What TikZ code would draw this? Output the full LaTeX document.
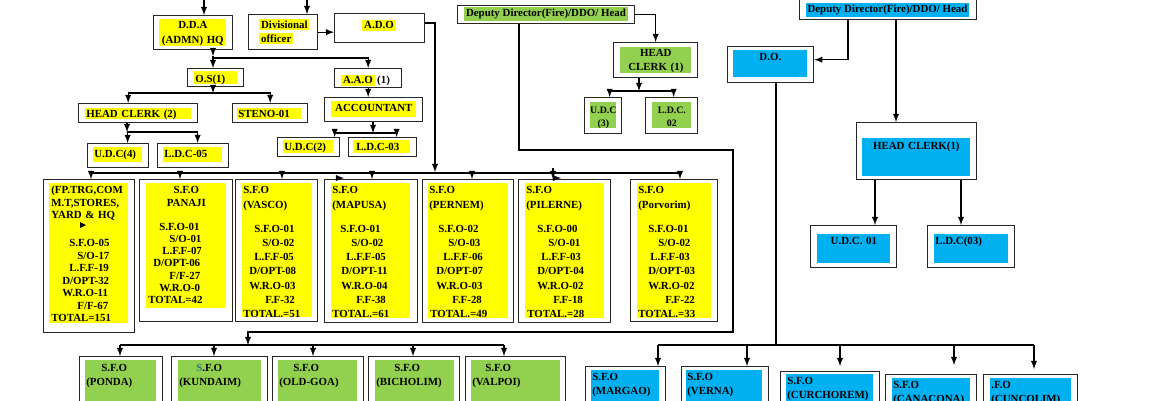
\documentclass[tikz,border=0pt]{standalone}
\usepackage{fontspec}
\setmainfont{Liberation Serif}
\usetikzlibrary{calc}

\definecolor{hlyel}{RGB}{255,255,0}
\definecolor{hlgrn}{RGB}{146,208,80}
\definecolor{hlblu}{RGB}{0,176,240}
\definecolor{kteal}{RGB}{40,120,150}

\newlength\pxl \setlength\pxl{0.02cm}
\newcommand{\ind}[1]{\hspace*{#1\pxl}}
\newcommand{\ctr}[1]{\makebox[\linewidth]{#1}}
\newcommand{\hl}[2]{{\setlength{\fboxsep}{1pt}\colorbox{#1}{#2}}}

\tikzset{
  frame/.style 2 args={draw=black!85, line width=0.75pt, anchor=north west, inner sep=0pt,
    minimum width=#1*0.02cm, minimum height=#2*0.02cm},
  pad/.style n args={4}{fill=#1, anchor=north west, inner xsep=0.02cm, inner ysep=0pt,
    text width=(#2-2)*0.02cm, text height=#3*0.02cm, text depth=#4*0.02cm},
  lines/.style={font=\fontsize{6.2}{#1}\selectfont\bfseries},
  small/.style={font=\fontsize{5.6}{#1}\selectfont\bfseries},
  conn/.style={line width=0.6pt, -latex},
  wire/.style={line width=0.6pt},
}

\begin{document}
\begin{tikzpicture}[x=0.02cm, y=-0.02cm, every node/.style={font=\fontsize{6.2}{7.4}\selectfont\bfseries}]
\useasboundingbox (0,0) rectangle (1170,400);
\clip (0,0) rectangle (1170,400);
\fill[white] (0,0) rectangle (1170,400);

% admin side
\node[frame={79}{34}] (dda) at (153,15) {};
\node[pad={hlyel}{67}{9.6}{17.4}, align=center, lines=8.5pt] (ddaT) at (159,19) {D.D.A\\(ADMN) HQ};
\node[frame={69}{35}] (div) at (248,14) {};
\node[anchor=base west, inner sep=0pt, text width=50*0.02cm, align=left, lines=7.9pt] (divT) at (259,28.6)
  {\hl{hlyel}{Divisional}\\\hl{hlyel}{officer}};
\node[frame={90}{29}] (ado) at (334,13) {};
\node[anchor=base, inner sep=0pt] (adoT) at (379,28.6) {\hl{hlyel}{A.D.O}};

\node[frame={56}{18}] (os) at (187,68) {};
\node[pad={hlyel}{43}{11.6}{1.4}, align=left] (osT) at (194,71) {O.S(1)};
\node[frame={67}{19}] (aao) at (334,68) {};
\node[anchor=base west, inner sep=0pt] (aaoT) at (341,83.6) {\hl{hlyel}{A.A.O} (1)};
\node[frame={98}{24}] (acc) at (324,97) {};
\node[pad={hlyel}{85}{10.6}{5.4}, align=center] (accT) at (331,101) {ACCOUNTANT};

\node[frame={119}{19}] (hc2) at (78,103) {};
\node[pad={hlyel}{106}{9.6}{1.4}, align=left] (hc2T) at (85,108) {HEAD CLERK (2)};
\node[frame={75}{19}] (steno) at (232,103) {};
\node[pad={hlyel}{64}{9.6}{1.4}, align=left] (stenoT) at (237,108) {STENO-01};
\node[frame={62}{19}] (udc2) at (277,137) {};
\node[pad={hlyel}{50}{10.6}{2.4}, align=left] (udc2T) at (283,140) {U.D.C(2)};
\node[frame={68}{19}] (ldc3) at (348,137) {};
\node[pad={hlyel}{57}{10.6}{2.4}, align=left] (ldc3T) at (353,140) {\ind{2}L.D.C-03};
\node[frame={61}{24}] (udc4) at (87,143) {};
\node[pad={hlyel}{49}{10.6}{4.4}, align=left] (udc4T) at (93,147) {U.D.C(4)};
\node[frame={71}{24}] (ldc5) at (157,143) {};
\node[pad={hlyel}{59}{10.6}{4.4}, align=left] (ldc5T) at (163,147) {L.D.C-05};

% stations under the D.D.A
\node[frame={91}{153}] (b1) at (43,179) {};
\node[pad={hlyel}{79}{10.6}{129.4}, align=left, lines=7.09pt] (b1T) at (49,183)
  {\ind{1}(FP.TRG,COM\\\ind{1}M.T,STORES,\\\ind{1}YARD \& HQ\\[15.5\pxl]\ind{19}S.F.O-05\\\ind{27}S/O-17\\\ind{19}L.F.F-19\\\ind{12}D/OPT-32\\\ind{12}W.R.O-11\\\ind{27}F/F-67\\\ind{1}TOTAL=151};
\fill (80,222) -- (86,225) -- (80,228) -- cycle;
\node[frame={93}{142}] (panaji) at (139,179) {};
\node[pad={hlyel}{80}{10.6}{114.4}, align=left, lines=6.97pt] (panajiT) at (146,183)
  {\ctr{S.F.O}\\\ctr{PANAJI}\\[11.7\pxl]\ind{12}S.F.O-01\\\ind{22}S/O-01\\\ind{15}L.F.F-07\\\ind{6}D/OPT-06\\\ind{22}F/F-27\\\ind{12}W.R.O-0\\\ind{1}TOTAL=42};
\node[frame={82}{142}] (vasco) at (235,179) {};
\node[pad={hlyel}{70}{10.6}{123.4}, align=left, lines=8.1pt] (vascoT) at (242,183)
  {S.F.O\\(VASCO)\\[9.7\pxl]\ind{11}S.F.O-01\\\ind{19}S/O-02\\\ind{11}L.F.F-05\\\ind{6}D/OPT-08\\\ind{6}W.R.O-03\\\ind{22}F.F-32\\TOTAL.=51};
\node[frame={93}{143}] (mapusa) at (324,179) {};
\node[pad={hlyel}{79}{10.6}{124.4}, align=left, lines=8.1pt] (mapusaT) at (331,183)
  {S.F.O\\(MAPUSA)\\[9.7\pxl]\ind{8}S.F.O-01\\\ind{19}S/O-02\\\ind{14}L.F.F-05\\\ind{9}D/OPT-11\\\ind{9}W.R.O-04\\\ind{24}F.F-38\\TOTAL.=61};
\node[frame={91}{143}] (pernem) at (422,179) {};
\node[pad={hlyel}{80}{10.6}{124.4}, align=left, lines=8.1pt] (pernemT) at (428,183)
  {S.F.O\\(PERNEM)\\[9.7\pxl]\ind{9}S.F.O-02\\\ind{19}S/O-03\\\ind{14}L.F.F-06\\\ind{7}D/OPT-07\\\ind{7}W.R.O-03\\\ind{23}F.F-28\\\ind{1}TOTAL.=49};
\node[frame={92}{143}] (pilerne) at (518,179) {};
\node[pad={hlyel}{79}{10.6}{124.4}, align=left, lines=8.1pt] (pilerneT) at (525,183)
  {S.F.O\\(PILERNE)\\[9.7\pxl]\ind{11}S.F.O-00\\\ind{22}S/O-01\\\ind{15}L.F.F-03\\\ind{11}D/OPT-04\\\ind{11}W.R.O-02\\\ind{27}F.F-18\\\ind{1}TOTAL.=28};
\node[frame={87}{142}] (porvorim) at (630,179) {};
\node[pad={hlyel}{74}{10.6}{124.4}, align=left, lines=8.1pt] (porvorimT) at (637,183)
  {S.F.O\\(Porvorim)\\[9.7\pxl]\ind{10}S.F.O-01\\\ind{20}S/O-02\\\ind{12}L.F.F-03\\\ind{10}D/OPT-03\\\ind{10}W.R.O-02\\\ind{27}F.F-22\\TOTAL.=33};

% green side
\node[frame={177}{18}] (dg) at (457,5) {};
\node[anchor=base, inner sep=0pt] (dgT) at (546,16.6) {\hl{hlgrn}{Deputy Director(Fire)/DDO/ Head}};
\node[frame={84}{35}] (hcg) at (613,42) {};
\node[pad={hlgrn}{71}{9.6}{16.4}, align=center, lines=7.9pt] (hcgT) at (620,47) {HEAD\\CLERK (1)};
\node[frame={37}{36}] (udc3) at (584,97) {};
\node[pad={hlgrn}{26}{11.6}{14.4}, align=center, small=7.4pt] (udc3T) at (590,102) {\ctr{U.D.C}\\\ctr{(3)}};
\node[frame={52}{36}] (ldc2) at (645,97) {};
\node[pad={hlgrn}{39}{11.6}{14.4}, align=center, small=7.4pt] (ldc2T) at (652,102) {L.D.C.\\02};

\node[frame={83}{54}] (ponda) at (79,356) {};
\node[pad={hlgrn}{71}{11.6}{38.4}, align=left, lines=7.9pt] (pondaT) at (85,360) {\ind{15}S.F.O\\(PONDA)};
\node[frame={96}{54}] (kundaim) at (171,356) {};
\node[pad={hlgrn}{83}{11.6}{38.4}, align=left, lines=7.9pt] (kundaimT) at (178,360) {\ind{17}{\color{kteal}S}.F.O\\(KUNDAIM)};
\node[frame={91}{54}] (oldgoa) at (272,356) {};
\node[pad={hlgrn}{79}{11.6}{38.4}, align=left, lines=7.9pt] (oldgoaT) at (278,360) {\ind{14}S.F.O\\(OLD-GOA)};
\node[frame={91}{54}] (bicholim) at (368,356) {};
\node[pad={hlgrn}{79}{11.6}{38.4}, align=left, lines=7.9pt] (bicholimT) at (375,360) {\ind{18}S.F.O\\(BICHOLIM)};
\node[frame={100}{54}] (valpoi) at (465,356) {};
\node[pad={hlgrn}{89}{11.6}{38.4}, align=left, lines=7.9pt] (valpoiT) at (471,360) {\ind{13}S.F.O\\(VALPOI)};

% blue side
\node[frame={177}{22}] (db) at (799,-3) {};
\node[anchor=base, inner sep=0pt] (dbT) at (887.5,12.6) {\hl{hlblu}{Deputy Director(Fire)/DDO/ Head}};
\node[frame={86}{36}] (do) at (727,46) {};
\node[pad={hlblu}{74}{10.6}{16.4}, align=center] (doT) at (733,50) {D.O.};
\node[frame={120}{57}] (hcb) at (856,122) {};
\node[pad={hlblu}{108}{11.6}{26.4}, align=center] (hcbT) at (862,138) {HEAD CLERK(1)};
\node[frame={86}{42}] (udc1) at (810,225) {};
\node[pad={hlblu}{73}{10.6}{18.4}, align=center] (udc1T) at (817,234) {U.D.C. 01};
\node[frame={87}{42}] (ldc3b) at (927,225) {};
\node[pad={hlblu}{74}{10.6}{18.4}, align=left] (ldc3bT) at (934,234) {L.D.C(03)};

\node[frame={80}{44}] (margao) at (585,366) {};
\node[pad={hlblu}{68}{10.6}{29.4}, align=left, lines=7.9pt] (margaoT) at (591,370) {S.F.O\\(MARGAO)};
\node[frame={87}{44}] (verna) at (681,366) {};
\node[pad={hlblu}{76}{10.6}{29.4}, align=left, lines=7.9pt] (vernaT) at (686,370) {S.F.O\\(VERNA)};
\node[frame={99}{39}] (curchorem) at (780,371) {};
\node[pad={hlblu}{87}{10.6}{25.4}, align=left, lines=7.9pt] (curchoremT) at (786,374) {S.F.O\\(CURCHOREM)};
\node[frame={91}{36}] (canacona) at (885,374) {};
\node[pad={hlblu}{78}{10.6}{21.4}, align=left, lines=7.9pt] (canaconaT) at (892,378) {S.F.O\\(CANACONA)};
\node[frame={94}{36}] (cuncolim) at (983,374) {};
\node[pad={hlblu}{81}{10.6}{21.4}, align=left, lines=7.9pt] (cuncolimT) at (990,378) {.F.O\\(CUNCOLIM)};

% connectors, admin side
\coordinate (ddaIn) at (204,-5);
\coordinate (divIn) at (307,-5);
\draw[conn] (ddaIn) -- (ddaIn |- dda.north);
\draw[conn] (divIn) -- (divIn |- div.north);
\draw[conn] (div.east) -- (div.east -| ado.west);
\coordinate (adoDrop) at (435,172);
\draw[conn] (ado.east |- 0,23) -| (adoDrop);
\coordinate (ddaJ) at (213,58);
\draw[conn] (213,0 |- dda.south) -- (213,56);
\draw[conn] (213,56) -- (213,0 |- os.north);
\draw[conn] (ddaJ) -| (aao.north);
\coordinate (osJ) at (213,93);
\draw[conn] (213,0 |- os.south) -- (osJ);
\draw[conn] (osJ) -| ([xshift=-0.2cm]hc2.north);
\draw[conn] (osJ) -| (steno.north);
\coordinate (hcJ) at (127,132);
\draw[conn] (127,0 |- hc2.south) -- (hcJ);
\draw[conn] (hcJ) -| ([xshift=0.19cm]udc4.north);
\draw[conn] (hcJ) -| ([xshift=0.09cm]ldc5.north);
\draw[conn] (aao.south) -- (aao.south |- acc.north);
\coordinate (accJ) at (373,133);
\draw[conn] (373,0 |- acc.south) -- (accJ);
\draw[conn] (accJ) -| ([xshift=0.52cm]udc2.north);
\draw[conn] (accJ) -| ([xshift=0.28cm]ldc3.north);
\draw[wire] (91,173) -- (680,173);
\foreach \n/\x in {b1/91, panaji/180, vasco/282, mapusa/372, pernem/472, pilerne/553, porvorim/680}
  \draw[conn] (\x,173) -- (\x,0 |- \n.north);
\draw[wire] (553,168) -- (553,173);
\draw[conn] (553,178) -- (561,178);
\draw[conn] (336,178) -- (344,178);

% connectors, green side
\draw[conn] (dg.east) -| (hcg.north);
\coordinate (hcgJ) at (639,91);
\draw[conn] (639,0 |- hcg.south) -- (hcgJ);
\draw[conn] (hcgJ) -| ([xshift=0.13cm]udc3.north);
\draw[conn] (hcgJ) -| ([xshift=0.04cm]ldc2.north);
\coordinate (greenTurn) at (248,332);
\draw[conn] (519,0 |- dg.south) |- (733,150) |- (greenTurn) -- (248,345);
\draw[wire] (120,345) -- (504,345);
\foreach \n/\x in {ponda/120, kundaim/214, oldgoa/313, bicholim/413, valpoi/504}
  \draw[conn] (\x,345) -- (\x,0 |- \n.north);

% connectors, blue side
\draw[conn] (848,0 |- db.south) |- ([yshift=0.1cm]do.east);
\draw[conn] (896,0 |- db.south) -- (896,0 |- hcb.north);
\draw[conn] (875,0 |- hcb.south) -- (875,0 |- udc1.north);
\draw[conn] (961,0 |- hcb.south) -- (961,0 |- ldc3b.north);
\draw[wire] (776,0 |- do.south) -- (776,345);
\draw[wire] (658,345) -- (1034,345);
\foreach \n/\x/\s in {margao/658/0, verna/747/0, curchorem/840/0.1, canacona/954/0.18, cuncolim/1034/0.1}
  \draw[conn, shorten >=\s cm] (\x,345) -- (\x,0 |- \n.north);
\end{tikzpicture}
\end{document}
